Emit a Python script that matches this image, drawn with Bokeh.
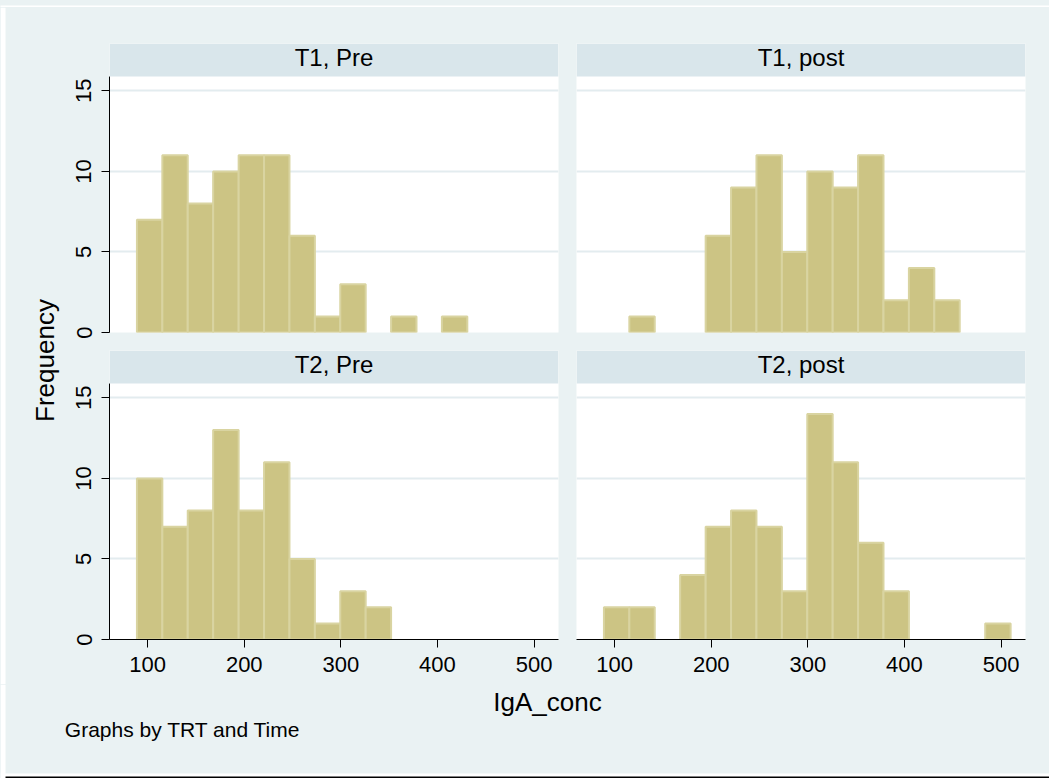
import math
from bokeh.plotting import figure
from bokeh.models import Range1d, FixedTicker, BoxAnnotation, Label
from bokeh.layouts import row, column
from bokeh.embed import file_html
from bokeh.resources import INLINE

# ---------------- data ----------------
panel_titles = ["T1, Pre", "T1, post", "T2, Pre", "T2, post"]
bin_edges = [88.9, 115.2, 141.5, 167.8, 194.2, 220.5, 246.8, 273.1, 299.4,
             325.7, 352.0, 378.3, 404.6, 430.9, 457.2, 483.6, 509.9]
counts_t1_pre = [7, 11, 8, 10, 11, 11, 6, 1, 3, 0, 1, 0, 1, 0, 0, 0]
counts_t1_post = [0, 1, 0, 0, 6, 9, 11, 5, 10, 9, 11, 2, 4, 2, 0, 0]
counts_t2_pre = [10, 7, 8, 13, 8, 11, 5, 1, 3, 2, 0, 0, 0, 0, 0, 0]
counts_t2_post = [2, 2, 0, 4, 7, 8, 7, 3, 14, 11, 6, 3, 0, 0, 0, 1]
y_ticks = [0, 5, 10, 15]
x_ticks = [100, 200, 300, 400, 500]
x_title = "IgA_conc"
y_title = "Frequency"
note_text = "Graphs by TRT and Time"

# ---------------- style ----------------
BG = "#EAF2F3"
STRIP = "#D9E6EB"
BAR = "#CCC484"
BAR_LINE = "#D9D4A1"
GRID = "#E3ECEF"
FONT = "Liberation Sans"
SHIFT = 8.5  # compensation for the label baseline placement

X_START, X_END = 60.5, 525.3
Y_PLOT_TOP = 15.89
FRAME_H = 256
STRIP_H = 33
PX_PER_UNIT = FRAME_H / Y_PLOT_TOP
Y_END = Y_PLOT_TOP * (FRAME_H + STRIP_H) / FRAME_H


def make_panel(title, counts, width, height, mbl, mbr, mbt, mbb, show_y, show_x):
    p = figure(width=width, height=height,
               x_range=Range1d(X_START, X_END), y_range=Range1d(0, Y_END),
               x_axis_location="below" if show_x else None,
               y_axis_location="left" if show_y else None,
               toolbar_location=None, output_backend="svg",
               min_border_left=mbl, min_border_right=mbr,
               min_border_top=mbt, min_border_bottom=mbb)
    p.background_fill_color = "white"
    p.border_fill_color = BG
    p.outline_line_color = None
    p.xgrid.visible = False
    p.ygrid.ticker = FixedTicker(ticks=y_ticks)
    p.ygrid.grid_line_color = GRID
    p.ygrid.grid_line_width = 2

    lefts = [bin_edges[i] for i, c in enumerate(counts) if c > 0]
    rights = [bin_edges[i + 1] for i, c in enumerate(counts) if c > 0]
    tops = [c for c in counts if c > 0]
    p.quad(left=lefts, right=rights, bottom=0, top=tops,
           fill_color=BAR, line_color=BAR_LINE, line_width=2)

    strip = BoxAnnotation(bottom=Y_PLOT_TOP, fill_color=STRIP, fill_alpha=1.0,
                          line_color=None)
    p.add_layout(strip)
    lab = Label(x=(X_START + X_END) / 2,
                y=Y_PLOT_TOP + (10.3 + SHIFT) / PX_PER_UNIT,
                text=title, text_align="center", text_baseline="alphabetic",
                text_font=FONT, text_font_size="24px", text_color="black")
    p.add_layout(lab)

    if show_y:
        ax = p.yaxis[0]
        ax.ticker = FixedTicker(ticks=y_ticks)
        ax.bounds = (0, Y_PLOT_TOP)
        ax.major_label_orientation = "parallel"
        ax.major_label_standoff = 10
    if show_x:
        ax = p.xaxis[0]
        ax.ticker = FixedTicker(ticks=x_ticks)
        ax.major_label_standoff = 9
    for ax in list(p.xaxis) + list(p.yaxis):
        ax.axis_line_color = "black"
        ax.axis_line_width = 1
        ax.major_tick_line_color = "black"
        ax.major_tick_out = 8
        ax.major_tick_in = 0
        ax.minor_tick_out = 0
        ax.minor_tick_in = 0
        ax.major_label_text_font = FONT
        ax.major_label_text_font_size = "22px"
        ax.major_label_text_color = "black"
    return p


p1 = make_panel(panel_titles[0], counts_t1_pre, 505, 334, 47, 9, 36, 9, True, False)
p2 = make_panel(panel_titles[1], counts_t1_post, 482, 334, 9, 24, 36, 9, False, False)
p3 = make_panel(panel_titles[2], counts_t2_pre, 505, 343, 47, 9, 9, 45, True, True)
p4 = make_panel(panel_titles[3], counts_t2_post, 482, 343, 9, 24, 9, 45, False, True)


def blank(width, height, fill=BG):
    f = figure(width=width, height=height,
               x_range=Range1d(0, width), y_range=Range1d(0, height),
               x_axis_location=None, y_axis_location=None,
               toolbar_location=None, output_backend="svg",
               min_border_left=0, min_border_right=0,
               min_border_top=0, min_border_bottom=0)
    f.background_fill_color = fill
    f.border_fill_color = fill
    f.outline_line_color = None
    f.xgrid.visible = False
    f.ygrid.visible = False
    return f


topfig = blank(1049, 7, fill="white")

LEFT_H = 677
leftfig = blank(62, LEFT_H)
leftfig.add_layout(BoxAnnotation(left=0, right=5, fill_color="white",
                                 fill_alpha=1.0, line_color=None))
leftfig.add_layout(Label(x=53.3 - SHIFT, y=LEFT_H - (360 - 7), text=y_title,
                         angle=math.pi / 2,
                         text_align="center", text_baseline="alphabetic",
                         text_font=FONT, text_font_size="26px", text_color="black"))

BOT_H = 94
bottomfig = blank(1049, BOT_H)
bottomfig.add_layout(BoxAnnotation(left=0, right=5, fill_color="white",
                                   fill_alpha=1.0, line_color=None))
bottomfig.add_layout(Label(x=547, y=BOT_H - (26 - SHIFT), text=x_title,
                           text_align="center", text_baseline="alphabetic",
                           text_font=FONT, text_font_size="26px", text_color="black"))
bottomfig.add_layout(Label(x=64.3, y=BOT_H - (52.7 - 7.5), text=note_text,
                           text_align="left", text_baseline="alphabetic",
                           text_font=FONT, text_font_size="21px", text_color="black"))
bottomfig.add_layout(BoxAnnotation(bottom=0, top=BOT_H - 89, fill_color="white",
                                   fill_alpha=1.0, line_color=None))
bottomfig.add_layout(BoxAnnotation(bottom=0, top=2, left=5, fill_color="black",
                                   fill_alpha=1.0, line_color=None))

st = {"background-color": BG}
grid = column(row(p1, p2, styles=st), row(p3, p4, styles=st), styles=st)
main = row(leftfig, grid, styles=st)
layout = column(topfig, main, bottomfig, styles=st)

with open("out.html", "w") as fh:
    fh.write(file_html(layout, INLINE))
